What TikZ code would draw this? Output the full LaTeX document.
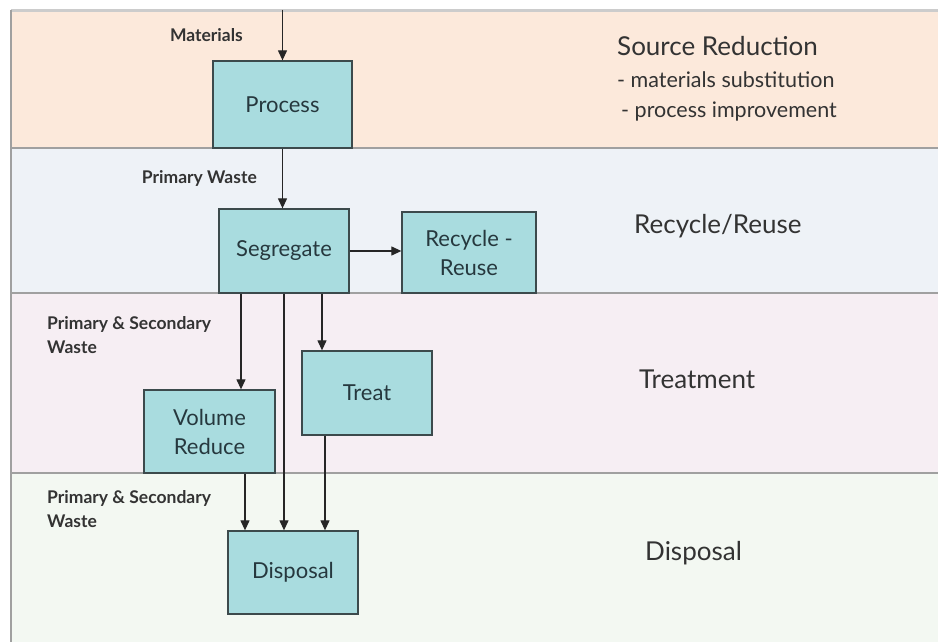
\documentclass[tikz,border=0pt]{standalone}
\usepackage{fontspec}
\setmainfont{Lato}
\usepackage{tikz}
\usetikzlibrary{arrows.meta,calc}
\definecolor{bandSource}{HTML}{FCE9DB}
\definecolor{bandRecycle}{HTML}{EEF2F7}
\definecolor{bandTreat}{HTML}{F6EEF3}
\definecolor{bandDisposal}{HTML}{F3F8F2}
\definecolor{boxFill}{HTML}{A9DCDF}
\definecolor{boxLine}{HTML}{3C4A4C}
\definecolor{boxText}{HTML}{26383E}
\definecolor{bandLine}{HTML}{A0A0A0}
\colorlet{labelText}{black!80}

\begin{document}
\begin{tikzpicture}[
  x=1pt,
  y=-1pt,
  band/.style={
    draw=bandLine,
    line width=1.2pt,
  },
  stepbox/.style={
    draw=boxLine,
    fill=boxFill,
    line width=1.3pt,
    text=boxText,
    align=center,
    font=\fontsize{22}{29}\selectfont,
    inner sep=0pt,
  },
  flow/.style={
    draw=black!85,
    line width=1.2pt,
    -{Triangle[width=9pt,length=10pt]},
  },
  note/.style={
    text=labelText,
    font=\bfseries\fontsize{17.5}{24}\selectfont,
    align=left,
    inner sep=0pt,
  },
  stage/.style={
    text=labelText,
    font=\fontsize{26}{30}\selectfont,
    align=left,
    inner sep=0pt,
  }
]
\useasboundingbox (0,0) rectangle (938,642);
\fill[white] (0,0) rectangle (938,642);
% stage bands
\fill[bandSource] (11,10) rectangle (938,148);
\fill[bandRecycle] (11,148) rectangle (938,293);
\fill[bandTreat] (11,293) rectangle (938,473);
\fill[bandDisposal] (11,473) rectangle (938,642);
\draw[black!20,line width=3pt] (11,11) -- (938,11);
\foreach \y in {148,293,473}
  \draw[band] (11,\y) -- (938,\y);
\draw[band] (11,10) -- (11,642);
% stage titles
\node[stage,anchor=west] (srcTitle) at (617,46) {Source Reduction};
\node[stage,anchor=west,font=\fontsize{21.5}{24}\selectfont] (srcOne) at (617,80) {- materials substitution};
\node[stage,anchor=west,font=\fontsize{21.5}{24}\selectfont] (srcTwo) at (621,112) {- process improvement};
\node[stage,anchor=west] (recTitle) at (634,226) {Recycle/Reuse};
\node[stage,anchor=west] (treTitle) at (639,379) {Treatment};
\node[stage,anchor=west] (disTitle) at (645,553) {Disposal};
% process steps
\node[stepbox,minimum width=139pt,minimum height=87pt] (proc) at (282.5,104.5) {Process};
\node[stepbox,minimum width=130pt,minimum height=84pt] (seg) at (284,251) {Segregate};
\node[stepbox,minimum width=134pt,minimum height=81pt] (rec) at (469,252.5) {Recycle -\\Reuse};
\node[stepbox,minimum width=130pt,minimum height=84pt] (treat) at (367,393) {Treat};
\node[stepbox,minimum width=131pt,minimum height=83pt] (vol) at (209.5,431.5) {Volume\\Reduce};
\node[stepbox,minimum width=130pt,minimum height=83pt] (disp) at (293,572.5) {Disposal};
% flow labels
\coordinate (feed) at (proc.north |- 0,10);
\node[note,anchor=east] (matLbl) at (243,35) {Materials};
\node[note,anchor=east] (pwLbl) at (257,178) {Primary Waste};
\node[note,anchor=north west] (psOne) at (47,316) {Primary \& Secondary\\Waste};
\node[note,anchor=north west] (psTwo) at (47,490) {Primary \& Secondary\\Waste};
% connectors
\draw[flow] (feed) -- (proc.north);
\draw[flow] (proc.south) -- (proc.south |- seg.north);
\draw[flow] (seg.east) -- (seg.east -| rec.west);
\draw[flow] ([xshift=-43pt]seg.south) -- ([xshift=-43pt]seg.south |- vol.north);
\draw[flow] ([xshift=38pt]seg.south) -- ([xshift=38pt]seg.south |- treat.north);
\draw[flow] (seg.south) -- (seg.south |- disp.north);
\draw[flow] ([xshift=35.5pt]vol.south) -- ([xshift=35.5pt]vol.south |- disp.north);
\draw[flow] ([xshift=-42pt]treat.south) -- ([xshift=-42pt]treat.south |- disp.north);
\end{tikzpicture}
\end{document}
